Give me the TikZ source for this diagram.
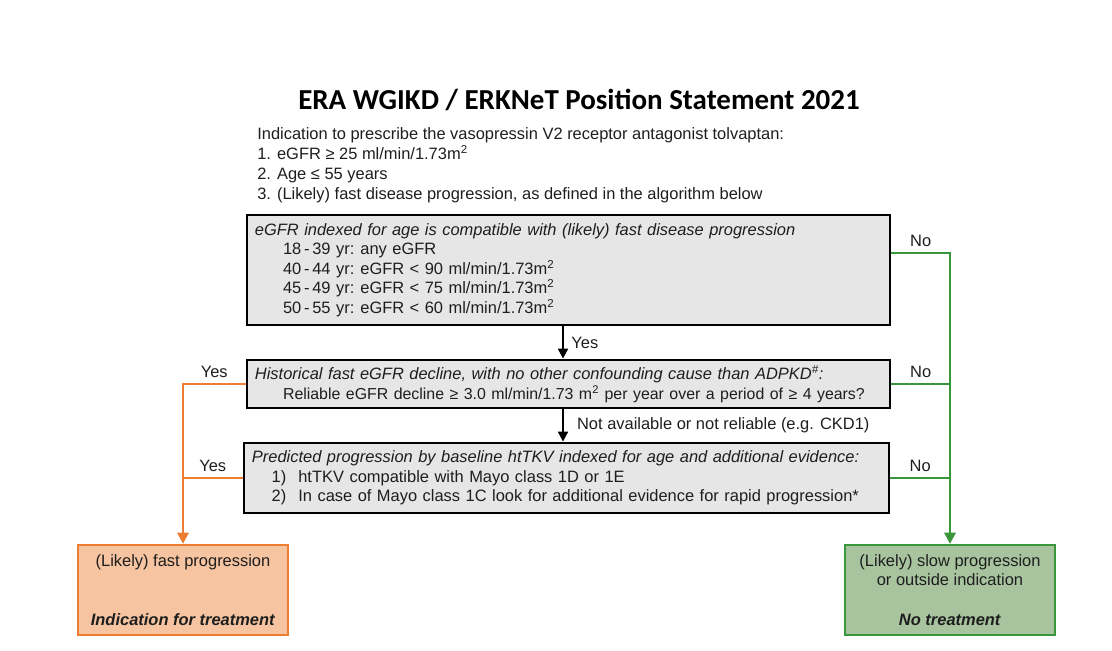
\documentclass[tikz,border=0pt]{standalone}
\usepackage{fontspec}
\setmainfont{Liberation Sans}
\newfontfamily\titlefont{Carlito}
\usetikzlibrary{arrows.meta}

\definecolor{boxgray}{HTML}{E6E6E6}
\definecolor{fastline}{HTML}{ED7D31}
\definecolor{fastfill}{HTML}{F6C4A0}
\definecolor{slowline}{HTML}{3A963A}
\definecolor{slowfill}{HTML}{A8C49F}
\definecolor{ink}{HTML}{1E1E1E}

\tikzset{
  txt/.style={font=\fontsize{11.7}{13.9}\selectfont, text=ink},
  qbox/.style={rectangle, draw=black, line width=2pt, fill=boxgray, align=left,
               inner xsep=0.2cm, inner ysep=0pt, txt},
  endbox/.style={rectangle, line width=1.6pt, align=center, minimum width=5.25cm,
                 minimum height=2.25cm, inner sep=0pt, txt},
  darrow/.style={-{Triangle[length=7pt,width=7pt]}, line width=1.4pt},
  fastlink/.style={draw=fastline, line width=1.8pt},
  slowlink/.style={draw=slowline, line width=1.8pt},
}

\newcommand{\sqm}{m\textsuperscript{2}}
\newcommand{\agerow}[2]{\hspace*{20pt}\makebox[55pt][l]{#1}#2}

\begin{document}
\begin{tikzpicture}[x=0.025cm,y=-0.025cm]

\useasboundingbox (0,0) rectangle (1112,651);

\node [font=\titlefont\bfseries\fontsize{20.6}{24}\selectfont, text=black] (title) at (579,100)
  {ERA WGIKD / ERKNeT Position Statement 2021};

\node [txt, anchor=west, align=left, inner sep=0pt, font=\fontsize{11.7}{14.2}\selectfont] (intro) at (257,165)
  {Indication to prescribe the vasopressin V2 receptor antagonist tolvaptan:\\
   1. eGFR ≥ 25 ml/min/1.73\sqm\\
   2. Age ≤ 55 years\\
   3. (Likely) fast disease progression, as defined in the algorithm below};

\node [qbox, minimum width=16.075cm, minimum height=2.75cm, text width=15.675cm] (age) at (568.5,270)
  {\textit{eGFR indexed for age is compatible with (likely) fast disease progression}\\
   \agerow{18\,-\,39 yr:}{any eGFR}\\
   \agerow{40\,-\,44 yr:}{eGFR < 90 ml/min/1.73\sqm}\\
   \agerow{45\,-\,49 yr:}{eGFR < 75 ml/min/1.73\sqm}\\
   \agerow{50\,-\,55 yr:}{eGFR < 60 ml/min/1.73\sqm}};

\node [qbox, minimum width=16.075cm, minimum height=1.2cm, text width=15.675cm] (hist) at (568.5,384)
  {\textit{Historical fast eGFR decline, with no other confounding cause than ADPKD\textsuperscript{\#}:}\\
   \hspace*{20pt}\mbox{\fontsize{11.3}{13.9}\selectfont Reliable eGFR decline ≥ 3.0 ml/min/1.73 \sqm{} per year over a period of ≥ 4 years?}};

\node [qbox, minimum width=16.125cm, minimum height=1.75cm, text width=15.725cm] (tkv) at (566.5,478)
  {\textit{Predicted progression by baseline htTKV indexed for age and additional evidence:}\\
   \hspace*{14pt}\makebox[19pt][l]{1)}htTKV compatible with Mayo class 1D or 1E\\
   \hspace*{14pt}\makebox[19pt][l]{2)}In case of Mayo class 1C look for additional evidence for rapid progression*};

\node [endbox, draw=fastline, fill=fastfill] (fast) at (183,590)
  {(Likely) fast progression\\[28pt]\textbf{\textit{Indication for treatment}}};

\node [endbox, draw=slowline, fill=slowfill] (slow) at (950,590)
  {(Likely) slow progression\\or outside indication\\[14.5pt]\textbf{\textit{No treatment}}};

\draw [darrow] ([xshift=-0.1375cm]age.south) -- ([xshift=-0.1375cm]hist.north)
  node [midway, right, txt, xshift=2pt] {Yes};
\draw [darrow] ([xshift=-0.1375cm]hist.south) -- ([xshift=-0.1375cm]hist.south |- tkv.north)
  node [midway, right, txt, xshift=6pt] {Not available or not reliable (e.g. CKD1)};

\draw [fastlink, -{Triangle[length=8pt,width=8pt]}] (hist.west) -| (fast.north)
  node [pos=0.25, above, txt] {Yes};
\draw [fastlink] (tkv.west) -- (tkv.west -| fast.north)
  node [midway, above, txt] {Yes};

\draw [slowlink, -{Triangle[length=8pt,width=8pt]}] ([yshift=0.425cm]age.east) -| (slow.north)
  node [pos=0.25, above, txt] {No};
\draw [slowlink] (hist.east) -- (hist.east -| slow.north)
  node [midway, above, txt] {No};
\draw [slowlink] (tkv.east) -- (tkv.east -| slow.north)
  node [midway, above, txt] {No};

\end{tikzpicture}
\end{document}
